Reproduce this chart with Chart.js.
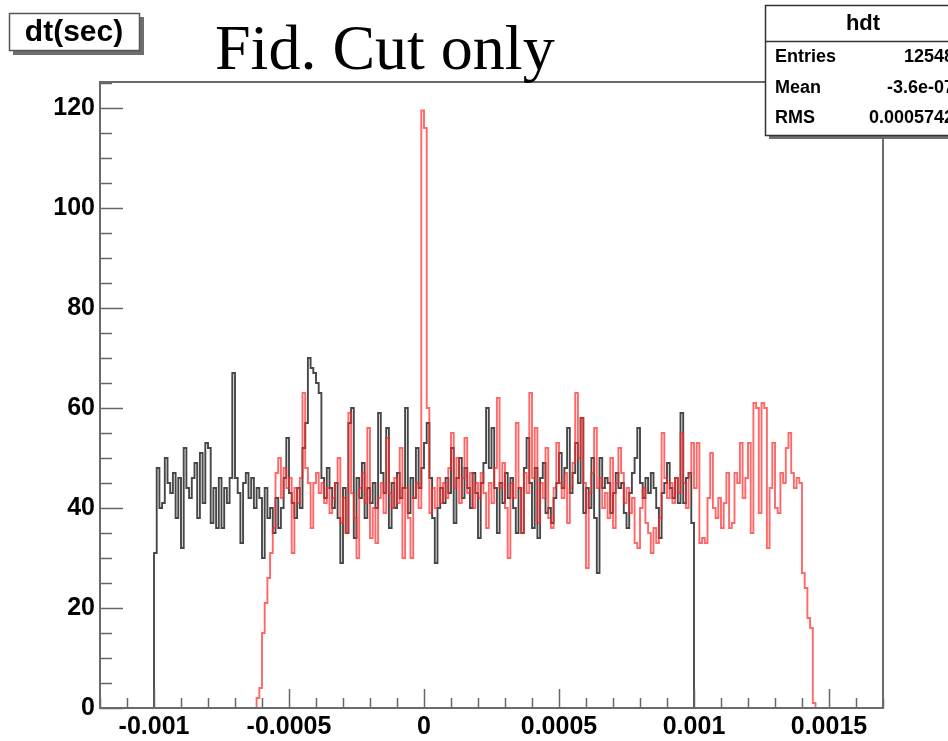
<!DOCTYPE html>
<html>
<head>
<meta charset="utf-8">
<script src="https://cdn.jsdelivr.net/npm/chart.js@4.4.1/dist/chart.umd.min.js"></script>
<style>
  html, body { margin: 0; padding: 0; background: #fff; }
  canvas { display: block; }
</style>
</head>
<body>
<canvas id="c" width="948" height="741"></canvas>
<script>
// ---- data ----
const binWidth = 0.00001;
const blackStart = -0.001;
const blackCounts = [
  31, 48, 40, 41, 50, 45, 43, 47, 38, 46,
  32, 52, 44, 42, 46, 49, 38, 51, 41, 53,
  52, 37, 44, 36, 46, 36, 44, 41, 46, 67,
  46, 43, 33, 45, 47, 42, 46, 40, 44, 42,
  30, 44, 38, 40, 35, 42, 36, 40, 46, 54,
  43, 41, 38, 44, 40, 52, 57, 70, 68, 67,
  65, 63, 46, 42, 48, 44, 40, 45, 38, 29,
  44, 35, 57, 60, 34, 46, 42, 49, 38, 44,
  41, 45, 40, 59, 47, 43, 56, 36, 45, 40,
  47, 42, 44, 60, 39, 46, 42, 52, 44, 48,
  53, 57, 46, 38, 29, 40, 44, 41, 46, 43,
  52, 37, 46, 50, 42, 48, 44, 40, 47, 43,
  34, 45, 49, 60, 48, 56, 44, 35, 45, 41,
  47, 42, 46, 40, 35, 44, 35, 48, 54, 45,
  36, 48, 34, 46, 49, 39, 40, 37, 42, 45,
  51, 44, 48, 56, 43, 47, 53, 45, 58, 39,
  44, 40, 50, 38, 27, 50, 44, 46, 45, 39,
  43, 47, 44, 45, 39, 36, 43, 47, 50, 56,
  45, 42, 46, 43, 47, 44, 40, 34, 43, 45,
  49, 44, 42, 46, 41, 59, 41, 46, 47, 37
];
const redStart = -0.00062;
const redCounts = [
  2, 4, 15, 21, 26, 31, 36, 47, 50, 42,
  48, 44, 46, 31, 44, 41, 46, 63, 48, 45,
  36, 45, 47, 43, 45, 41, 44, 39, 42, 45,
  50, 37, 42, 35, 59, 43, 38, 30, 44, 47,
  41, 56, 34, 40, 33, 42, 45, 39, 54, 43,
  40, 46, 41, 52, 30, 44, 38, 30, 42, 45,
  40, 119.5, 116, 60, 39, 44, 40, 46, 41, 45,
  42, 48, 55, 44, 50, 41, 46, 54, 43, 47,
  40, 45, 42, 47, 43, 36, 45, 41, 48, 62,
  44, 49, 40, 30, 45, 42, 57, 44, 35, 47,
  43, 63, 46, 56, 37, 45, 42, 52, 38, 36,
  44, 53, 45, 42, 47, 37, 44, 49, 63, 50,
  58, 45, 28, 43, 47, 56, 44, 46, 40, 43,
  38, 50, 36, 45, 52, 47, 41, 44, 39, 42,
  33, 32, 40, 44, 37, 35, 31, 36, 33, 38,
  55, 46, 42, 45, 41, 46, 43, 55, 45, 40,
  47, 53, 44, 53, 33, 34, 33, 42, 51, 40,
  38, 42, 36, 41, 47, 36, 37, 47, 45, 53,
  42, 46, 53, 35, 61, 60, 39, 61, 60, 32,
  44, 53, 40, 39, 47, 45, 52, 55, 47, 44,
  46, 45, 27, 24, 18, 16, 1
];
const xTickValues = [-0.001, -0.0005, 0, 0.0005, 0.001, 0.0015];
const xTickLabels = ['-0.001', '-0.0005', '0', '0.0005', '0.001', '0.0015'];
const xMinorStep = 0.0001;
const yTickValues = [0, 20, 40, 60, 80, 100, 120];
const yTickLabels = ['0', '20', '40', '60', '80', '100', '120'];
const yMinorStep = 5;
const titleText = 'Fid. Cut only';
const axisTitle = 'dt(sec)';
const statsName = 'hdt';
const statsRows = [['Entries', '12548'], ['Mean', '-3.6e-07'], ['RMS', '0.0005742']];

// ---- build histogram outlines (bin low edges, stepped) ----
function histPoints(start, counts) {
  const pts = [{ x: start, y: 0 }];
  counts.forEach((c, i) => pts.push({ x: start + i * binWidth, y: c }));
  pts.push({ x: start + counts.length * binWidth, y: 0 });
  return pts;
}

const SANS = '"Liberation Sans", Arial, Helvetica, sans-serif';

const frameTicks = {
  id: 'frameTicks',
  afterDatasetsDraw(chart) {
    const { ctx, chartArea: a, scales: { x, y } } = chart;
    ctx.save();
    ctx.strokeStyle = '#666';
    ctx.lineWidth = 1.5;
    const kStart = Math.ceil(x.min / xMinorStep - 1e-6);
    const kEnd = Math.floor(x.max / xMinorStep + 1e-6);
    for (let k = kStart; k <= kEnd; k++) {
      const px = Math.round(x.getPixelForValue(k * xMinorStep)) + 0.5;
      const len = (k % 5 === 0) ? 19 : 10;
      ctx.beginPath(); ctx.moveTo(px, a.bottom); ctx.lineTo(px, a.bottom - len); ctx.stroke();
    }
    for (let v = 0; v <= y.max + 1e-9; v += yMinorStep) {
      const py = Math.round(y.getPixelForValue(v)) + 0.5;
      const len = (v % 20 === 0) ? 23 : 12;
      ctx.beginPath(); ctx.moveTo(a.left, py); ctx.lineTo(a.left + len, py); ctx.stroke();
    }
    ctx.strokeStyle = '#6a6a6a';
    ctx.lineWidth = 2;
    ctx.strokeRect(a.left, a.top, a.right - a.left, a.bottom - a.top);
    ctx.restore();
  }
};

const overlayText = {
  id: 'overlayText',
  afterDraw(chart) {
    const ctx = chart.ctx;
    ctx.save();
    ctx.fillStyle = '#6e6e6e';
    ctx.fillRect(13, 17, 131, 38);
    ctx.fillStyle = '#fff';
    ctx.fillRect(9, 13, 131, 38);
    ctx.strokeStyle = '#555';
    ctx.lineWidth = 1.5;
    ctx.strokeRect(9.5, 13.5, 130, 37);
    ctx.fillStyle = '#000';
    ctx.font = 'bold 30px ' + SANS;
    ctx.textAlign = 'center';
    ctx.textBaseline = 'middle';
    ctx.fillText(axisTitle, 74, 33);

    ctx.font = '64px "Liberation Serif", "Times New Roman", serif';
    ctx.textAlign = 'left';
    ctx.textBaseline = 'alphabetic';
    ctx.fillText(titleText, 215, 69);

    const L = 765, T = 5, R = 962, B = 135;
    ctx.fillStyle = '#6e6e6e';
    ctx.fillRect(L + 4, T + 4, R - L, B - T);
    ctx.fillStyle = '#fff';
    ctx.fillRect(L, T, R - L, B - T);
    ctx.strokeStyle = '#333';
    ctx.lineWidth = 1.5;
    ctx.strokeRect(L + 0.5, T + 0.5, R - L, B - T);
    ctx.beginPath(); ctx.moveTo(L, 41.5); ctx.lineTo(R, 41.5); ctx.stroke();
    ctx.fillStyle = '#000';
    ctx.font = 'bold 22px ' + SANS;
    ctx.textAlign = 'center';
    ctx.textBaseline = 'middle';
    ctx.fillText(statsName, 863, 24);
    ctx.font = 'bold 18px ' + SANS;
    const rowY = [57, 88, 118];
    statsRows.forEach((r, i) => {
      ctx.textAlign = 'left';
      ctx.fillText(r[0], 775, rowY[i]);
      ctx.textAlign = 'right';
      ctx.fillText(r[1], 954, rowY[i]);
    });
    ctx.restore();
  }
};

new Chart(document.getElementById('c'), {
  type: 'line',
  data: {
    datasets: [
      {
        label: 'red',
        data: histPoints(redStart, redCounts),
        borderColor: 'rgba(255,40,40,0.7)',
        borderWidth: 1.9,
        stepped: true,
        pointRadius: 0,
        fill: false,
        order: 0
      },
      {
        label: 'hdt',
        data: histPoints(blackStart, blackCounts),
        borderColor: 'rgba(25,25,25,0.8)',
        borderWidth: 1.9,
        stepped: true,
        pointRadius: 0,
        fill: false,
        order: 1
      }
    ]
  },
  options: {
    responsive: false,
    animation: false,
    devicePixelRatio: 1,
    layout: { padding: { top: 82, right: 65, left: 0, bottom: 0 } },
    plugins: {
      legend: { display: false },
      tooltip: { enabled: false },
      title: { display: false }
    },
    scales: {
      x: {
        type: 'linear',
        min: -0.0012,
        max: 0.0017,
        afterBuildTicks: (s) => { s.ticks = xTickValues.map(v => ({ value: v })); },
        afterFit: (s) => { s.height = 33; },
        ticks: {
          autoSkip: false,
          maxRotation: 0,
          padding: 4,
          color: '#000',
          font: { family: SANS, size: 25, weight: 'bold' },
          callback: (v, i) => xTickLabels[i]
        },
        grid: { display: false, drawTicks: false },
        border: { display: false }
      },
      y: {
        min: 0,
        max: 125.2,
        afterBuildTicks: (s) => { s.ticks = yTickValues.map(v => ({ value: v })); },
        afterFit: (s) => { s.width = 100; },
        ticks: {
          autoSkip: false,
          padding: 5,
          color: '#000',
          font: { family: SANS, size: 25, weight: 'bold' },
          callback: (v, i) => yTickLabels[i]
        },
        grid: { display: false, drawTicks: false },
        border: { display: false }
      }
    }
  },
  plugins: [frameTicks, overlayText]
});
</script>
</body>
</html>
